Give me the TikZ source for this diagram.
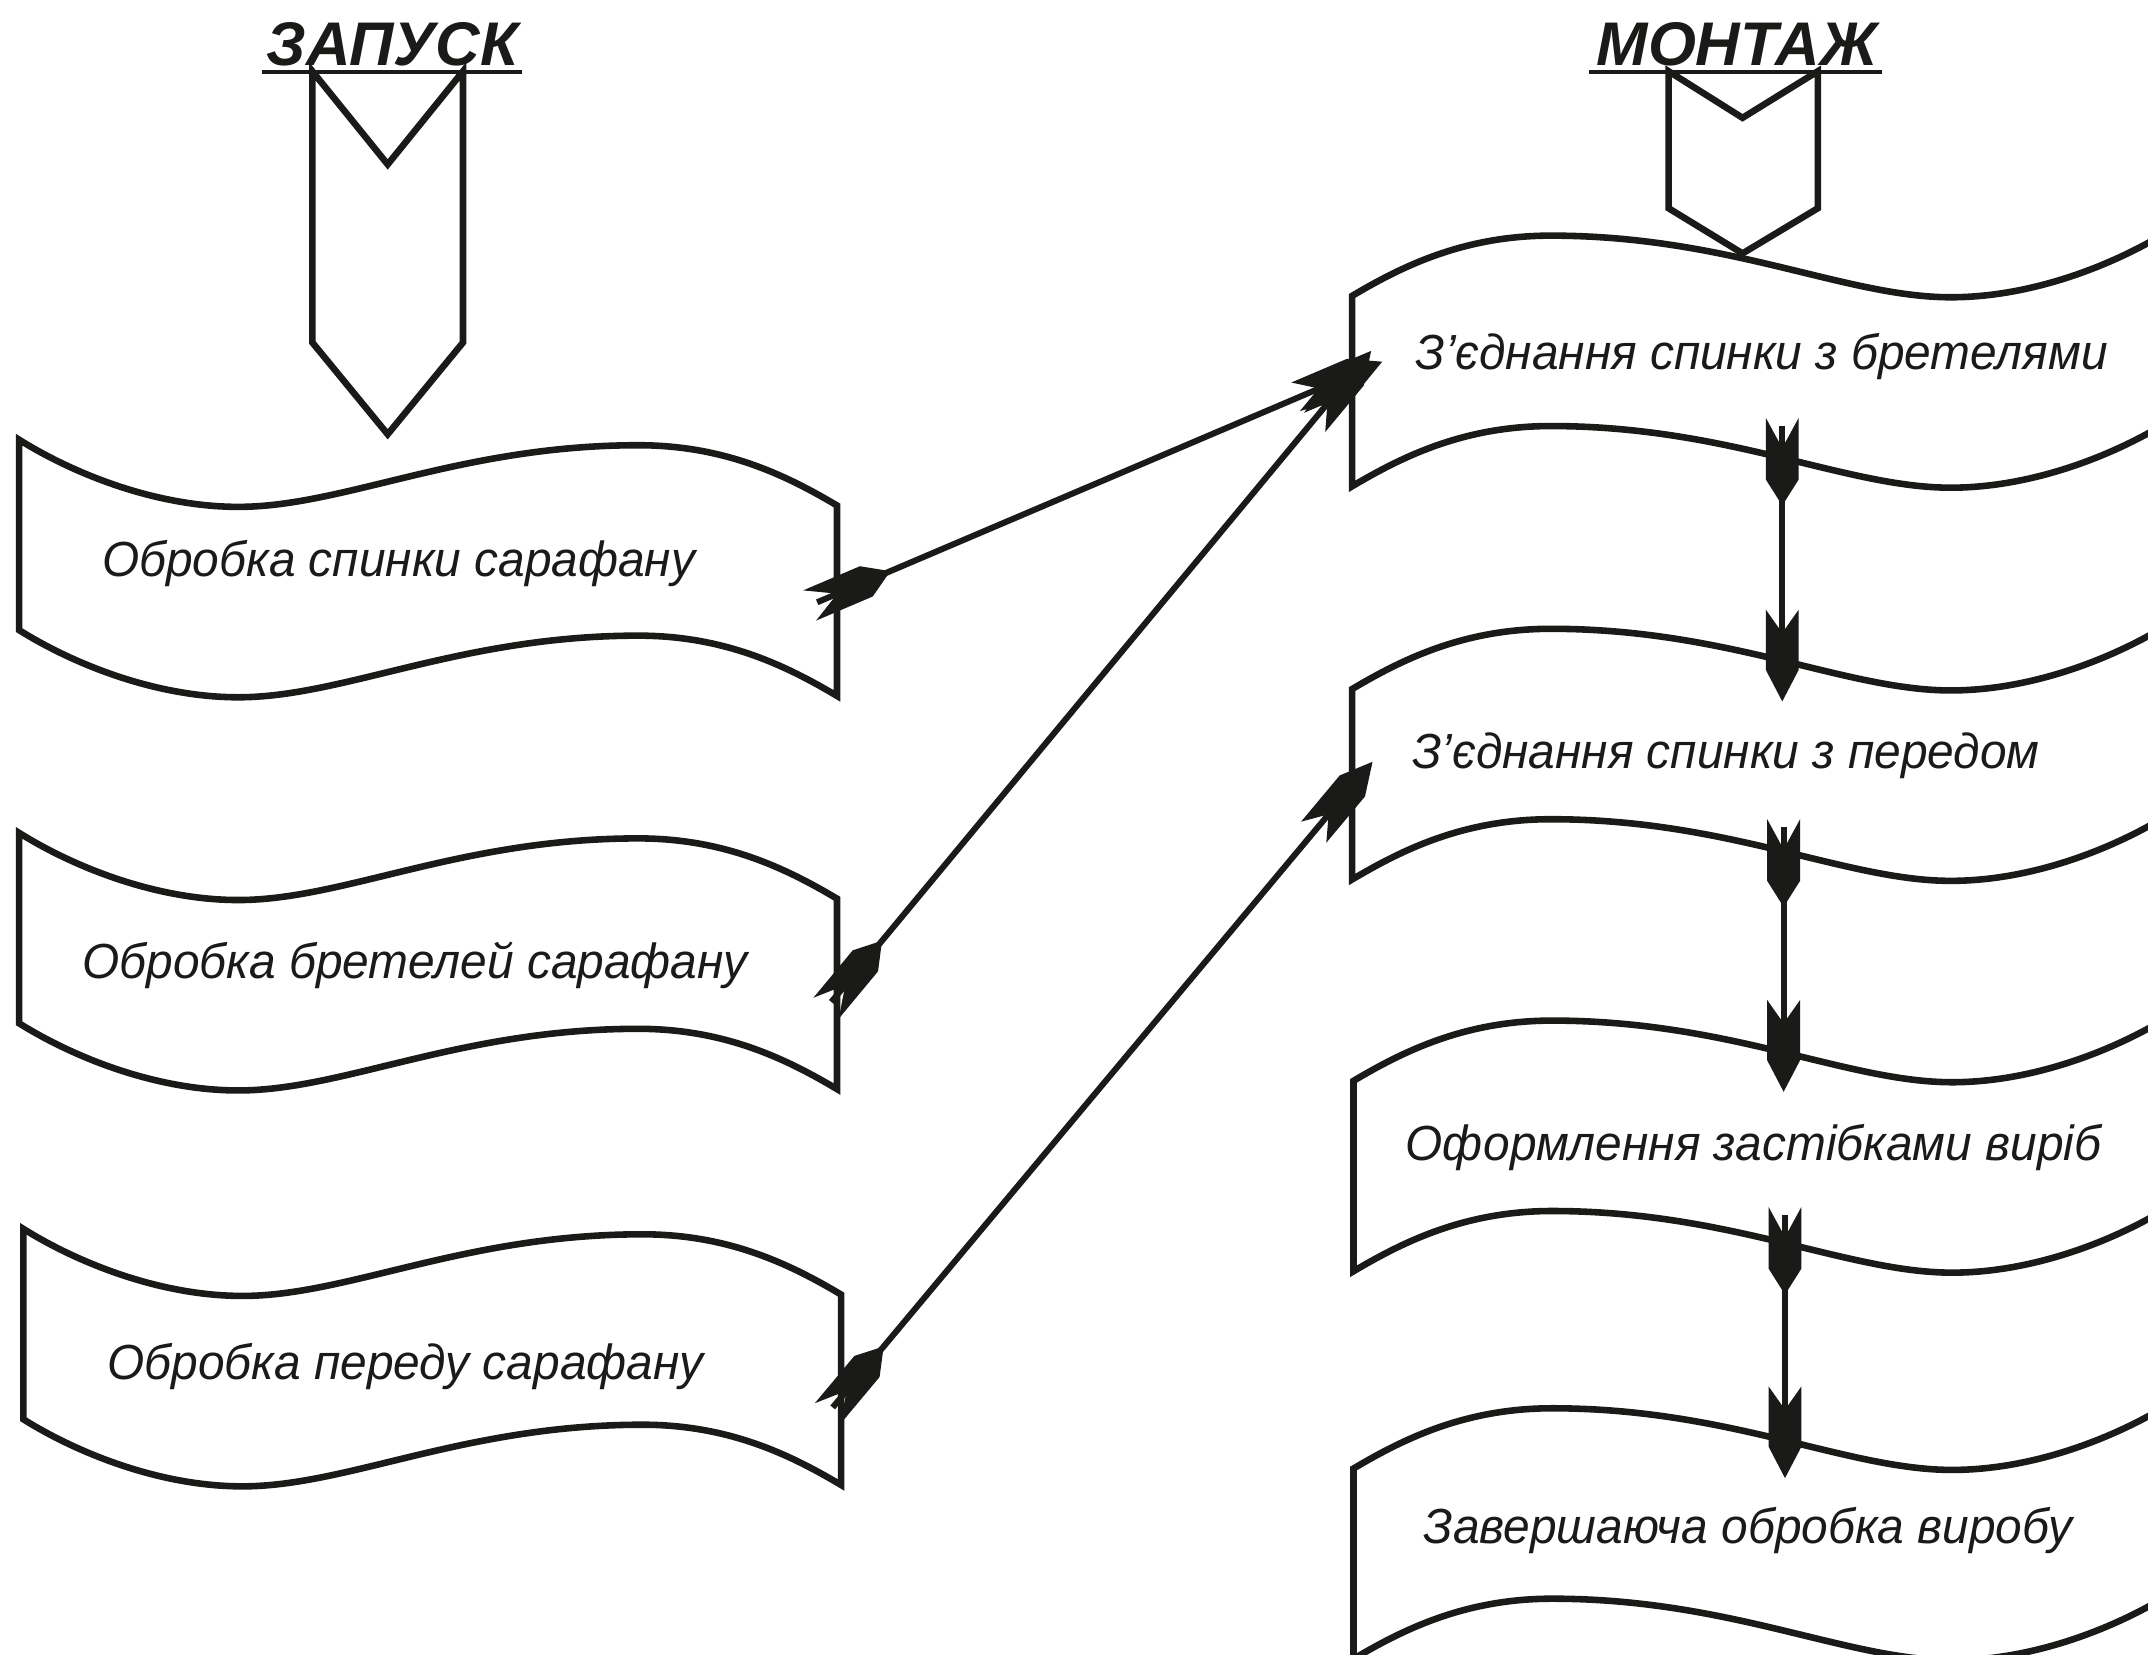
\documentclass[tikz,border=0pt]{standalone}
\usepackage{fontspec}
\setmainfont{Liberation Sans}
\newfontfamily\lblfont[FakeStretch=0.97]{Liberation Sans}
\usetikzlibrary{decorations.markings}
\definecolor{ink}{RGB}{26,26,24}
\tikzset{
  shapeline/.style={draw=ink, line width=4.8pt, line join=miter, fill=white},
  lbl/.style={font=\lblfont\fontsize{36}{43}\selectfont\itshape, text=ink, inner sep=0pt, anchor=base},
  ttl/.style={font=\fontsize{45}{54}\selectfont\bfseries\itshape, text=ink, inner sep=0pt, anchor=base},
  uline/.style={draw=ink, line width=3pt},
  lbox/.pic={
    \path[shapeline] (0,0) .. controls (40,25) and (100,49) .. (160,49)
      .. controls (237,49) and (322,4) .. (452,4)
      .. controls (515,4) and (560,26) .. (597,48)
      -- (597,187)
      .. controls (560,165) and (515,143) .. (452,143)
      .. controls (322,143) and (237,188) .. (160,188)
      .. controls (100,188) and (40,164) .. (0,139) -- cycle;
  },
  rbox/.pic={
    \path[shapeline] (0,0) .. controls (37,-22) and (82,-44) .. (145,-44)
      .. controls (275,-44) and (360,1) .. (437,1)
      .. controls (497,1) and (557,-23) .. (597,-48)
      -- (597,91)
      .. controls (557,116) and (497,140) .. (437,140)
      .. controls (360,140) and (275,95) .. (145,95)
      .. controls (82,95) and (37,117) .. (0,139) -- cycle;
  },
  connline/.style={draw=ink, line width=4.4pt, shorten >=20pt, shorten <=6pt},
  connmarks/.style={decorate, decoration={markings,
    mark=at position 0 with {\fill[ink] (0pt,12pt) -- (22pt,0pt) -- (0pt,-12pt) -- (45pt,-12pt) -- (64pt,0pt) -- (45pt,12pt) -- cycle;},
    mark=at position 1 with {\fill[ink] (0pt,0pt) -- (-23pt,12pt) -- (-67pt,12pt) -- (-50pt,0pt) -- (-67pt,-12pt) -- (-23pt,-12pt) -- cycle;}}}
}
\newcommand\linkab[2]{\draw[connline] (#1) -- (#2); \path[connmarks] (#1) -- (#2);}
\begin{document}
\begin{tikzpicture}[x=1pt,y=-1pt]
\useasboundingbox (0,0) rectangle (1568,1208);
\begin{scope}
\clip (0,0) rectangle (1568,1208);
\fill[white] (0,0) rectangle (1568,1208);

% titles
\node[ttl] (tStart) at (286.5,47.5) {ЗАПУСК};
\node[ttl] (tMount) at (1268,47.5) {МОНТАЖ};
\draw[uline] (191,52.3) -- (381,52.3);
\draw[uline] (1160,52.3) -- (1374,52.3);

% chevrons
\path[shapeline] (228,52) -- (283,120) -- (338,52) -- (338,250) -- (283,317) -- (228,250) -- cycle;
\path[shapeline] (1218,52) -- (1272,86) -- (1327,52) -- (1327,152) -- (1272,185) -- (1218,152) -- cycle;

% left boxes
\pic (bA) at (14,321) {lbox};
\pic (bB) at (14,608) {lbox};
\pic (bC) at (17,897) {lbox};
% right boxes
\pic (bD) at (987,216) {rbox};
\pic (bE) at (987,503) {rbox};
\pic (bF) at (988,789) {rbox};
\pic (bG) at (988,1072) {rbox};

% labels
\node[lbl] (A) at (291,421) {Обробка спинки сарафану};
\node[lbl] (B) at (303,714) {Обробка бретелей сарафану};
\node[lbl] (C) at (296,1007) {Обробка переду сарафану};
\node[lbl] (D) at (1286,270) {З’єднання спинки з бретелями};
\node[lbl] (E) at (1260,561) {З’єднання спинки з передом};
\node[lbl] (F) at (1280,847) {Оформлення застібками виріб};
\node[lbl] (G) at (1276,1127) {Завершаюча обробка виробу};

% connector end points
\coordinate (A-out) at (591,442);
\coordinate (D-in1) at (1009,264);
\coordinate (B-out) at (603,736);
\coordinate (D-in2) at (1001,256);
\coordinate (C-out) at (604,1032);
\coordinate (E-in1) at (1002,556);
\coordinate (D-out) at (1301,305);
\coordinate (E-in2) at (1301,512);
\coordinate (E-out) at (1302,598);
\coordinate (F-in) at (1302,797);
\coordinate (F-out) at (1303,881);
\coordinate (G-in) at (1303,1079);

\linkab{A-out}{D-in1}
\linkab{B-out}{D-in2}
\linkab{C-out}{E-in1}
\linkab{D-out}{E-in2}
\linkab{E-out}{F-in}
\linkab{F-out}{G-in}
\end{scope}
\end{tikzpicture}
\end{document}
